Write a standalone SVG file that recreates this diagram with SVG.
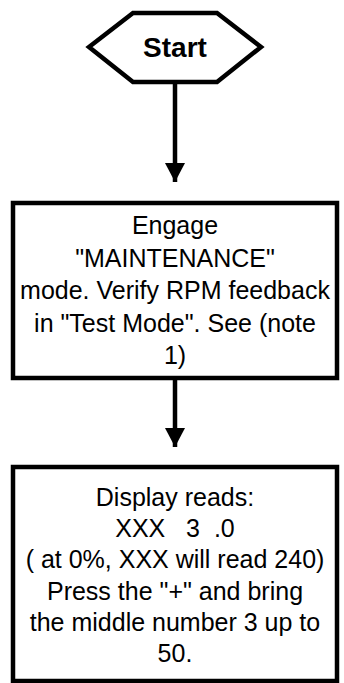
<svg xmlns="http://www.w3.org/2000/svg" width="344" height="683" viewBox="0 0 344 683">
<style>
.shape{fill:#fff;stroke:#000;stroke-width:4.5}
.edge{stroke:#000;stroke-width:4.5;fill:none}
.t{font-family:"Liberation Sans",Arial,sans-serif;font-size:25px;fill:#000;text-anchor:middle;white-space:pre}
.b{font-family:"Liberation Sans",Arial,sans-serif;font-size:28px;font-weight:bold;fill:#000;text-anchor:middle}
</style>
<defs>
<marker id="ah" markerUnits="userSpaceOnUse" markerWidth="22" markerHeight="20" refX="19" refY="10" orient="auto">
<path d="M0,0 L19,10 L0,20 Z" fill="#000"/>
</marker>
</defs>
<rect width="344" height="683" fill="#fff"/>
<g id="connectors">
<path class="edge" d="M175,82 V182" marker-end="url(#ah)"/>
<path class="edge" d="M175,378 V447" marker-end="url(#ah)"/>
</g>
<g id="start">
<polygon class="shape" points="89,47 133,13 217,13 261,47 217,82 133,82"/>
<text class="b" x="175" y="57">Start</text>
</g>
<g id="engage">
<rect class="shape" x="13" y="203" width="324" height="175"/>
<text class="t" x="175" y="234">Engage</text>
<text class="t" x="175" y="267">"MAINTENANCE"</text>
<text class="t" x="175" y="299">mode. Verify RPM feedback</text>
<text class="t" x="175" y="332">in "Test Mode". See (note</text>
<text class="t" x="175" y="364">1)</text>
</g>
<g id="display">
<rect class="shape" x="13" y="467" width="324" height="214"/>
<text class="t" x="175" y="506">Display reads:</text>
<text class="t" x="175" y="537" xml:space="preserve">XXX   3  .0</text>
<text class="t" x="175" y="568">( at 0%, XXX will read 240)</text>
<text class="t" x="175" y="600">Press the "+" and bring</text>
<text class="t" x="175" y="631">the middle number 3 up to</text>
<text class="t" x="175" y="662">50.</text>
</g>
</svg>
